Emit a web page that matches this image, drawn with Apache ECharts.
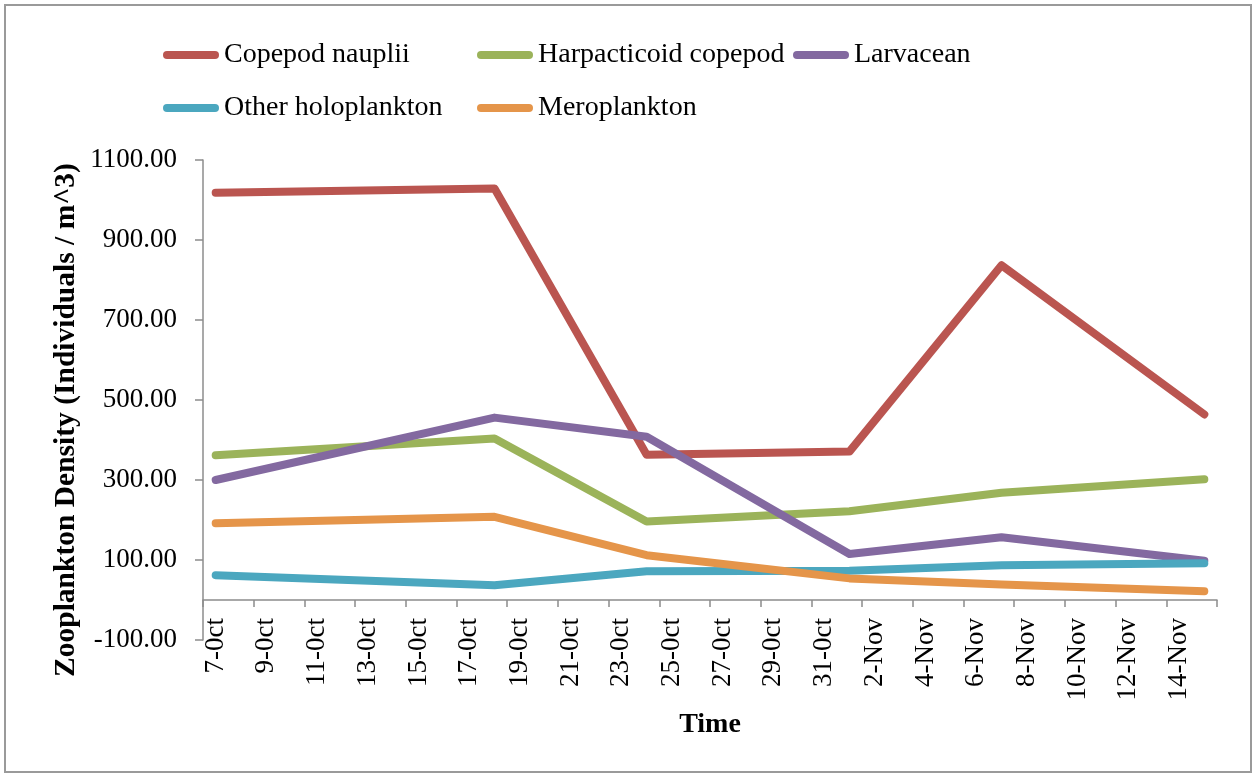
<!DOCTYPE html>
<html>
<head>
<meta charset="utf-8">
<script src="https://cdn.jsdelivr.net/npm/echarts@6/dist/echarts.min.js"></script>
<style>
html,body{margin:0;padding:0;background:#fff;}
#chart{width:1255px;height:775px;}
</style>
</head>
<body>
<div id="chart"></div>
<script>
// ---- data ----
const monthLabels = ['0ct', 'Nov'];
const axisStartDay = 7;      // 7-0ct
const daysInOct = 31;
const axisDayCount = 40;     // 7-0ct .. 15-Nov
const sampleDates = ['7-0ct', '18-0ct', '24-0ct', '1-Nov', '7-Nov', '15-Nov'];
const seriesNames = ['Copepod nauplii', 'Harpacticoid copepod', 'Larvacean', 'Other holoplankton', 'Meroplankton'];
const copepodNauplii    = [1018, 1029, 363, 371, 837, 464];
const harpacticoid      = [362, 404, 196, 222, 268, 302];
const larvacean         = [300, 456, 408, 115, 157, 98];
const otherHoloplankton = [62, 37, 72, 73, 87, 92];
const meroplankton      = [192, 208, 112, 54, 39, 22];
const yTicks = [-100, 100, 300, 500, 700, 900, 1100];
const seriesColors = ['#BA5550', '#9BB35A', '#8369A0', '#4BA7BF', '#E5954A'];

// ---- build category axis (one slot per day) ----
const categories = [];
for (let i = 0; i < axisDayCount; i++) {
  const d = axisStartDay + i;
  categories.push(d <= daysInOct ? d + '-' + monthLabels[0] : (d - daysInOct) + '-' + monthLabels[1]);
}
function expand(values) {
  const arr = categories.map(() => null);
  sampleDates.forEach((lab, k) => { arr[categories.indexOf(lab)] = values[k]; });
  return arr;
}
const allValues = [copepodNauplii, harpacticoid, larvacean, otherHoloplankton, meroplankton];

const FONT = '"Liberation Serif", "DejaVu Serif", serif';
const AXIS_COLOR = '#8c8c8c';

const legendPos = [
  {left: 163, top: 41}, {left: 477, top: 41}, {left: 793, top: 41},
  {left: 163, top: 94}, {left: 477, top: 94}
];

const chart = echarts.init(document.getElementById('chart'), null, {renderer: 'canvas'});
chart.setOption({
  animation: false,
  backgroundColor: '#fff',
  color: seriesColors,
  graphic: [
    {type: 'rect', shape: {x: 5, y: 5, width: 1246, height: 767},
     style: {fill: 'none', stroke: '#9a9a9a', lineWidth: 2}, silent: true, z: -1},
    {type: 'text', x: 66, y: 420, rotation: Math.PI / 2,
     style: {text: 'Zooplankton Density (Individuals / m^3)', font: 'bold 29.5px ' + FONT,
             fill: '#000', align: 'center', verticalAlign: 'middle'}}
  ],
  legend: seriesNames.map((n, i) => ({
    data: [n], left: legendPos[i].left, top: legendPos[i].top, padding: 0,
    icon: 'path://M4,0 H52 A4,4 0 0 1 52,8 H4 A4,4 0 0 1 4,0 Z',
    itemWidth: 56, itemHeight: 8, itemGap: 0,
    textStyle: {fontFamily: FONT, fontSize: 28, color: '#000', padding: [0, 0, 0, 0], lineHeight: 28},
    selectedMode: false
  })),
  grid: {left: 203, right: 38, top: 160, bottom: 135, containLabel: false, outerBoundsMode: 'none'},
  xAxis: {
    type: 'category', data: categories, boundaryGap: true,
    name: 'Time', nameLocation: 'middle', nameGap: 71,
    nameTextStyle: {fontFamily: FONT, fontSize: 28, fontWeight: 'bold', color: '#000'},
    axisLine: {onZero: true, lineStyle: {color: AXIS_COLOR, width: 1.5}},
    axisTick: {show: true, interval: 1, alignWithLabel: false, length: 7, lineStyle: {color: AXIS_COLOR, width: 1.5}},
    axisLabel: {interval: 1, rotate: 90, margin: -22, fontFamily: FONT, fontSize: 27, color: '#000'},
    splitLine: {show: false}
  },
  yAxis: {
    type: 'value', min: -100, max: 1100,
    axisLine: {show: true, lineStyle: {color: AXIS_COLOR, width: 1.5}},
    axisTick: {show: true, length: 8, customValues: yTicks, lineStyle: {color: AXIS_COLOR, width: 1.5}},
    axisLabel: {customValues: yTicks, margin: 26, fontFamily: FONT, fontSize: 27, color: '#000',
                formatter: v => v.toFixed(2)},
    splitLine: {show: false}
  },
  series: seriesNames.map((n, i) => ({
    name: n, type: 'line', data: expand(allValues[i]), connectNulls: true,
    showSymbol: false, symbol: 'none',
    lineStyle: {width: 8, color: seriesColors[i], cap: 'round', join: 'round'},
    itemStyle: {color: seriesColors[i]},
    z: 2 + i
  }))
});
</script>
</body>
</html>
